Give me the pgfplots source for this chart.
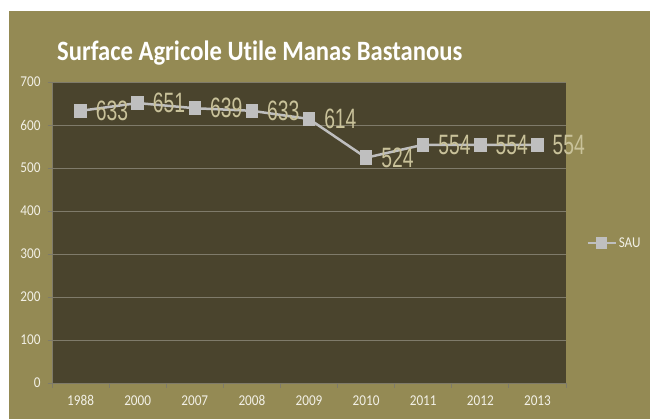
\documentclass[border=0pt]{standalone}
\usepackage{fontspec}
\setmainfont[FakeStretch=0.88,Ligatures=NoCommon]{Carlito}
\newfontfamily\narrowfont[FakeStretch=0.69]{Liberation Sans}
\usepackage{pgfplots}
\pgfplotsset{compat=1.18}
\definecolor{outerbg}{HTML}{948A54}
\definecolor{plotbg}{HTML}{4A442D}
\definecolor{linegray}{HTML}{BFBFBF}
\definecolor{labelbeige}{HTML}{C9C29A}
\definecolor{gridgray}{HTML}{7F7B6A}
\definecolor{ticktext}{HTML}{F2F0E6}
\begin{document}
\begin{tikzpicture}[x=1pt,y=1pt]
\fill[white] (0,0) rectangle (650,419);
\fill[outerbg] (9,0) rectangle (650,408);
\node[anchor=base west, inner sep=0, text=white, font=\fontsize{28}{32}\selectfont\bfseries] at (57,358) {Surface Agricole Utile Manas Bastanous};
\begin{axis}[
  at={(52pt,36pt)}, anchor=south west,
  scale only axis, width=514pt, height=301pt,
  xmin=-0.5, xmax=8.5, ymin=0, ymax=700,
  axis background/.style={fill=plotbg},
  xtick={0,...,8},
  xticklabels={1988,2000,2007,2008,2009,2010,2011,2012,2013},
  major x tick style={draw=none},
  minor xtick={-0.5,0.5,...,8.5},
  minor x tick style={draw=gridgray, line width=0.8pt},
  minor tick length=5pt,
  ytick={0,100,...,700},
  ymajorgrids,
  grid style={gridgray, line width=0.8pt},
  major tick length=4pt,
  tick align=outside,
  y tick style={draw=gridgray, line width=0.8pt},
  axis line style={draw=gridgray, line width=0.8pt},
  axis x line*=bottom, axis y line*=left,
  tick label style={text=ticktext, font=\fontsize{15}{18}\selectfont},
  /pgf/number format/assume math mode=true,
  yticklabel style={xshift=-4pt},
  xticklabel style={yshift=-5pt},
  clip=false,
  legend style={at={(1.039,0.465)}, anchor=west, draw=none, fill=none,
    text=ticktext, font=\fontsize{15}{18}\selectfont, inner sep=0pt},
  legend image code/.code={\draw[mark repeat=2,mark phase=2,#1,mark size=5pt] plot coordinates {(0pt,0pt) (14pt,0pt) (28pt,0pt)};},
]
\addplot[linegray, line width=2.5pt, mark=square*, mark size=6pt,
  mark options={xscale=0.83, solid},
  nodes near coords, point meta=explicit symbolic,
  every node near coord/.style={anchor=west, inner sep=0pt, xshift=14pt, yshift=0pt,
    text=labelbeige, font=\narrowfont\fontsize{28}{30}\selectfont}]
  table[meta=v] {
x y v
0 633 633
1 651 651
2 639 639
3 633 633
4 614 614
5 524 524
6 554 554
7 554 554
8 554 554
};
\addlegendentry{SAU}
\end{axis}
\end{tikzpicture}
\end{document}
